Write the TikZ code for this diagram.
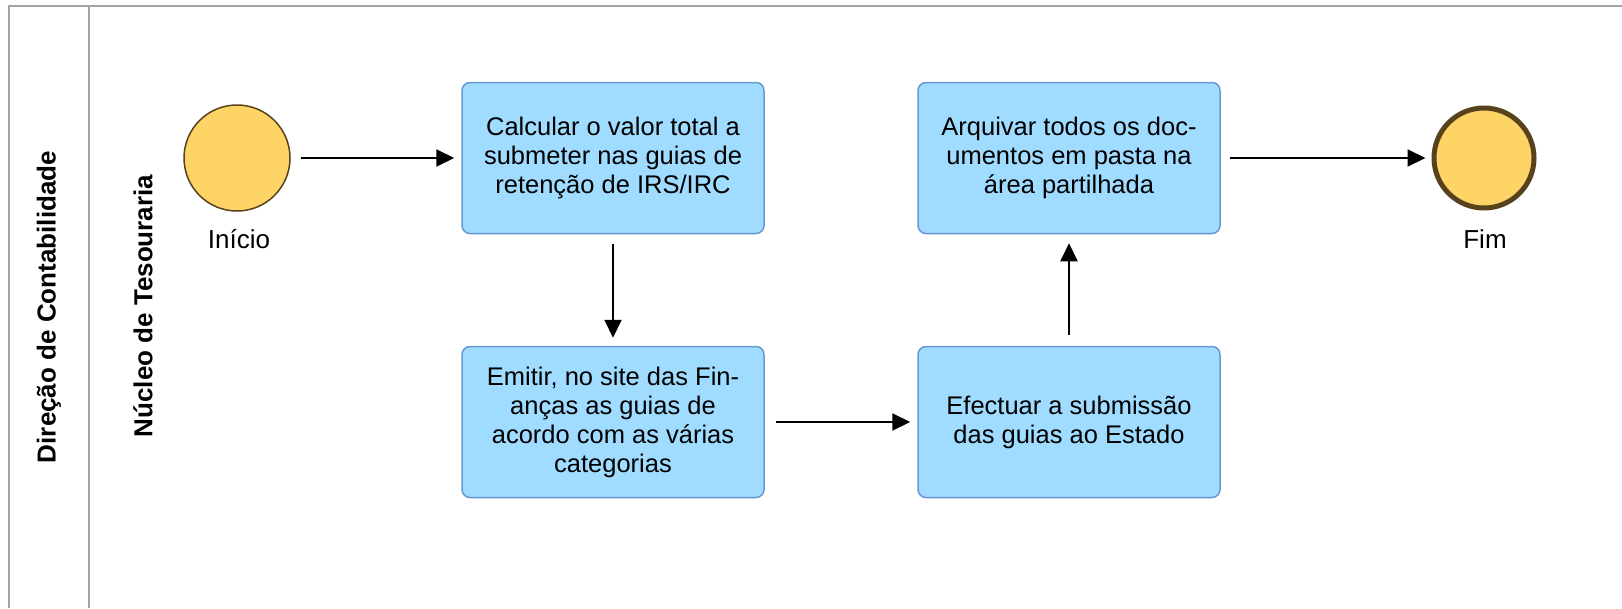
\documentclass[tikz,border=0pt]{standalone}
\usepackage{fontspec}
\setmainfont{Liberation Sans}
\usetikzlibrary{arrows.meta}

\begin{document}
\begin{tikzpicture}[x=1pt, y=-1pt, line join=round]
% BPMN lanes for the tesouraria process
\definecolor{laneLine}{RGB}{164,164,164}
\definecolor{taskFill}{RGB}{160,220,255}
\definecolor{taskBorder}{RGB}{104,152,208}
\definecolor{eventFill}{RGB}{255,212,102}
\definecolor{eventBorder}{RGB}{88,66,28}
\providecommand{\laneLineWidth}{2.5pt}
\providecommand{\flowLineWidth}{2pt}
\tikzset{
  task/.style={draw=taskBorder, fill=taskFill, line width=1.5pt, rounded corners=8pt,
    minimum width=302pt, minimum height=151pt, inner sep=0pt, align=center,
    font=\fontsize{25.5}{29}\selectfont},
  event/.style={circle, draw=eventBorder, fill=eventFill, inner sep=0pt},
  flow/.style={draw=black, line width=\flowLineWidth, -{Triangle[length=18pt,width=17pt]}},
  lanelabel/.style={rotate=90, font=\fontsize{26}{30}\selectfont\bfseries},
  eventlabel/.style={font=\fontsize{26}{30}\selectfont}
}
\useasboundingbox (0,0) rectangle (1622,608);
% Background
\fill[white] (0,0) rectangle (1622,608);
% Pool and lane outline
\begin{scope}[draw=laneLine, line width=\laneLineWidth]
  \draw (9,608) -- (9,6) -- (1622,6);
  \draw (89,6) -- (89,608);
\end{scope}
% Lane labels
\node[lanelabel] (poolname) at (49,307) {Direção de Contabilidade};
\node[lanelabel] (lanename) at (143,306) {Núcleo de Tesouraria};
% Events
\node[event, minimum size=106pt, line width=1.5pt] (start) at (237,158) {};
\node[event, minimum size=100pt, line width=5pt] (finish) at (1484,158) {};
\node[eventlabel] (startlabel) at (239,239) {Início};
\node[eventlabel] (finishlabel) at (1485,239) {Fim};
% Tasks
\node[task] (calc) at (613,158) {Calcular o valor total a\\submeter nas guias de\\retenção de IRS/IRC};
\node[task] (emit) at (613,422) {Emitir, no site das Fin-\\anças as guias de\\acordo com as várias\\categorias};
\node[task] (submit) at (1069,422) {Efectuar a submissão\\das guias ao Estado};
\node[task] (archive) at (1069,158) {Arquivar todos os doc-\\umentos em pasta na\\área partilhada};
% Sequence flows
\draw[flow, shorten <=10pt, shorten >=7pt] (start) -- (calc);
\draw[flow, shorten <=10pt, shorten >=8pt] (calc) -- (emit);
\draw[flow, shorten <=11pt, shorten >=7pt] (emit) -- (submit);
\draw[flow, shorten <=11pt, shorten >=9pt] (submit) -- (archive);
\draw[flow, shorten <=9pt, shorten >=6pt] (archive) -- (finish);
\end{tikzpicture}
\end{document}
